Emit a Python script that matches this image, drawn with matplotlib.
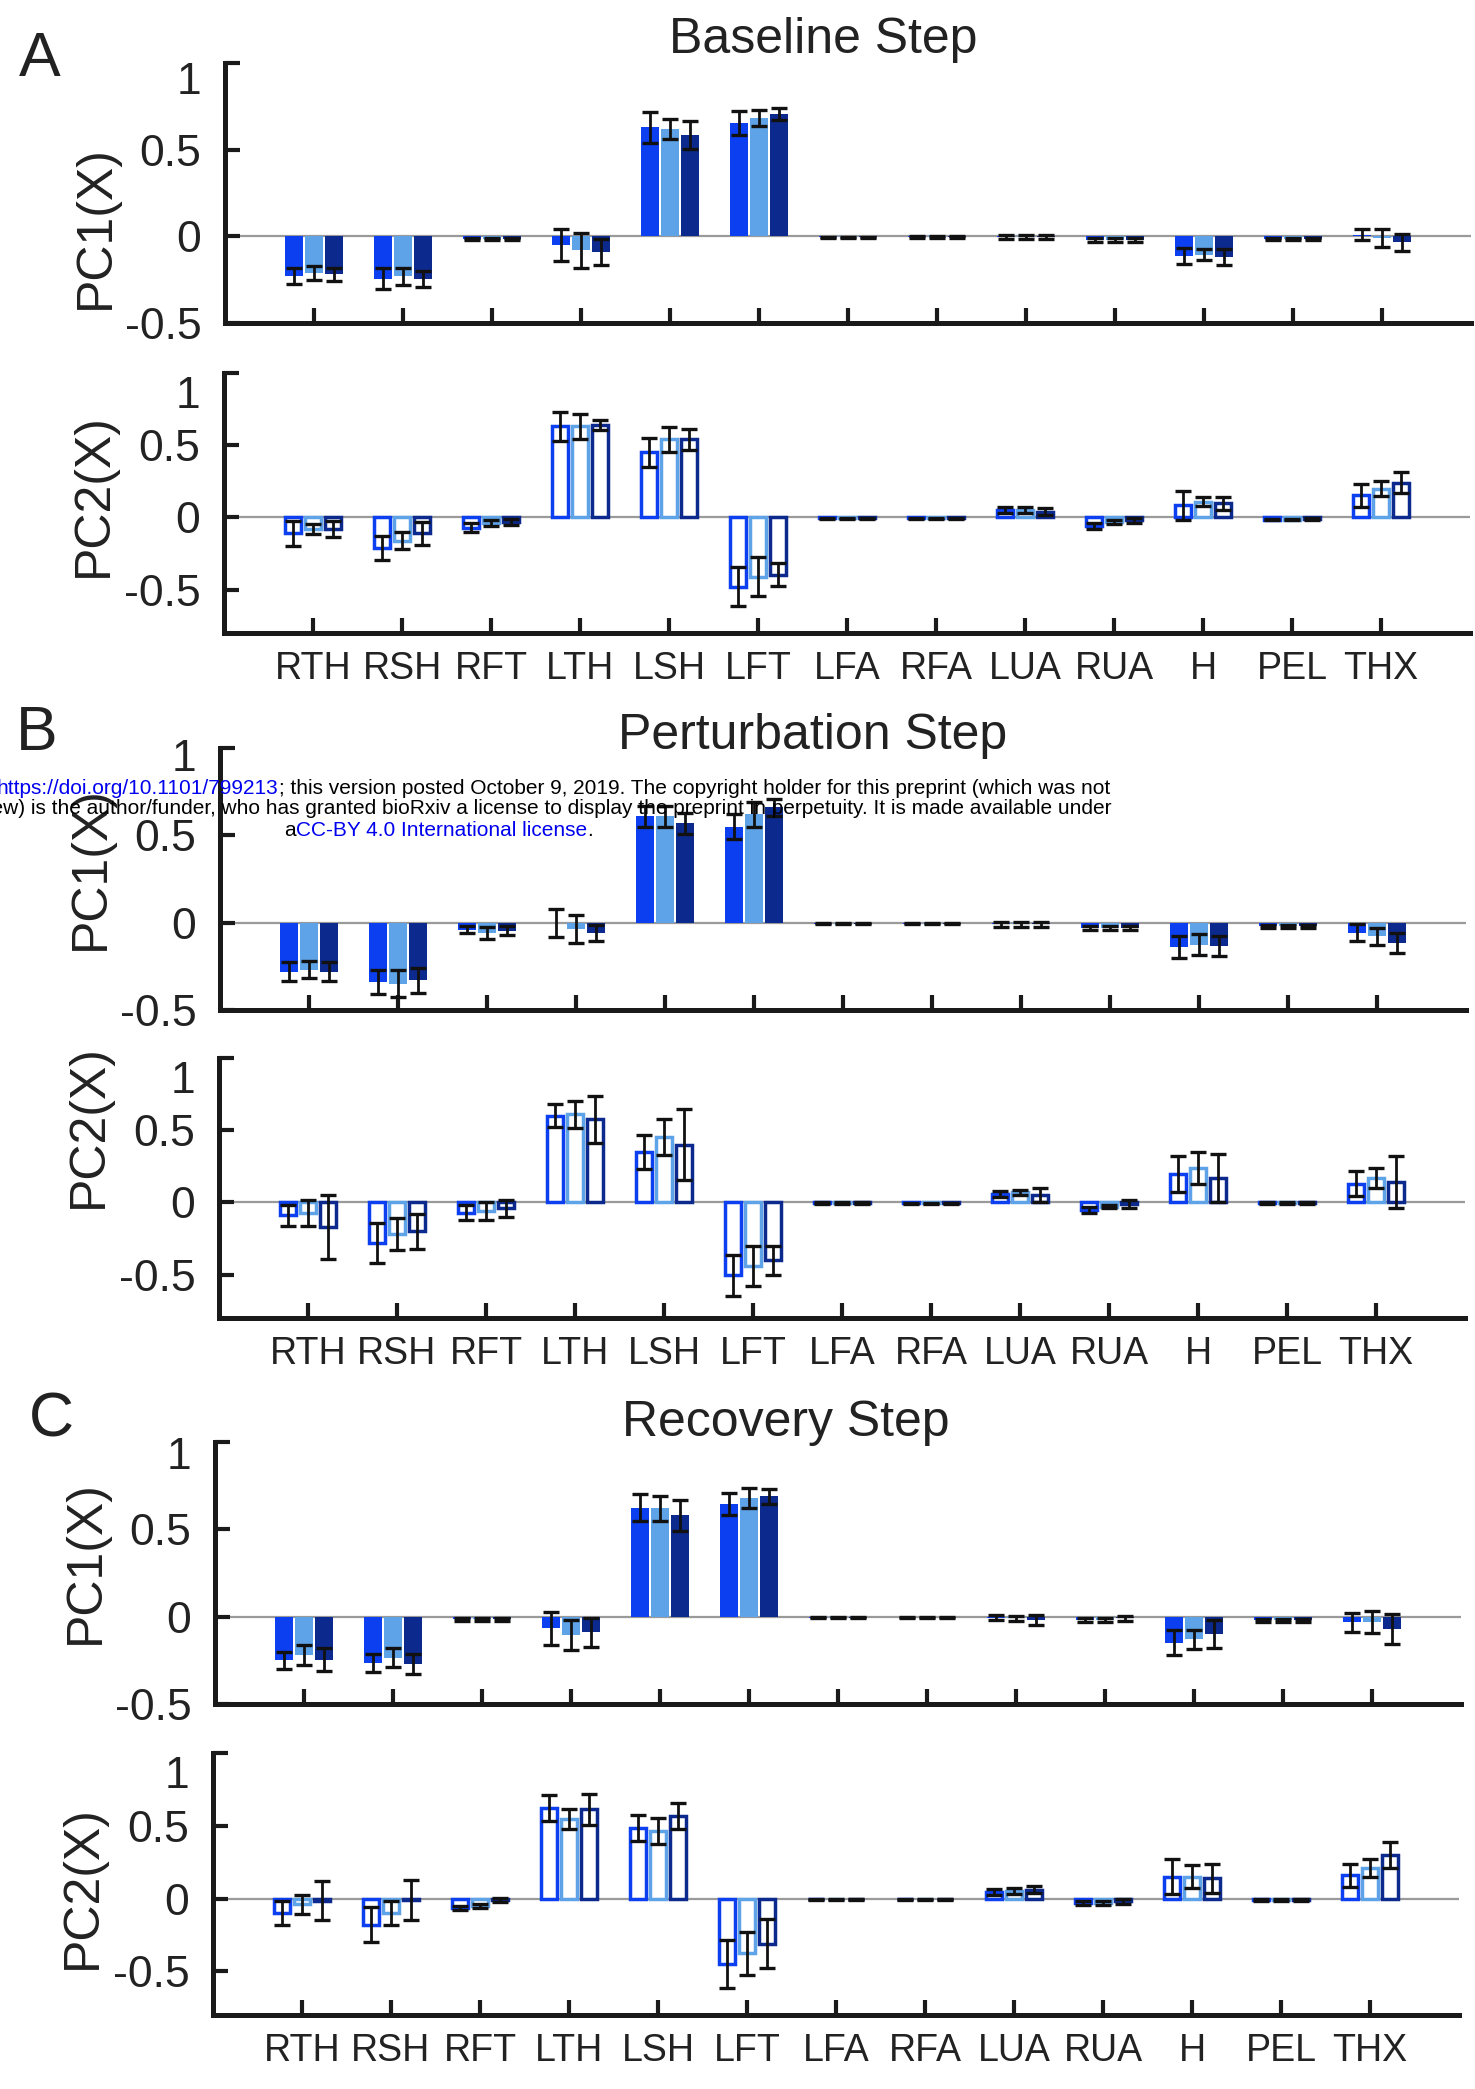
import matplotlib
matplotlib.use('Agg')
import matplotlib.pyplot as plt
import numpy as np

W, H = 1475, 2089
DPI = 100
plt.rcParams['font.family'] = ['Liberation Sans', 'DejaVu Sans']

categories = ['RTH', 'RSH', 'RFT', 'LTH', 'LSH', 'LFT', 'LFA', 'RFA', 'LUA', 'RUA', 'H', 'PEL', 'THX']
yticks = [-0.5, 0, 0.5, 1]
ytick_labels = ['-0.5', '0', '0.5', '1']

# ---------------- A: Baseline Step ----------------
A_pc1_s1 = [-0.23, -0.245, -0.015, -0.05, 0.63, 0.655, -0.005, -0.004, -0.005, -0.02, -0.115, -0.015, 0.01]
A_pc1_s2 = [-0.21, -0.23, -0.015, -0.08, 0.62, 0.685, -0.005, -0.004, -0.005, -0.02, -0.105, -0.015, -0.01]
A_pc1_s3 = [-0.22, -0.245, -0.015, -0.09, 0.585, 0.705, -0.005, -0.004, -0.005, -0.02, -0.12, -0.015, -0.035]
A_pc1_e1 = [0.045, 0.06, 0.008, 0.09, 0.09, 0.07, 0.004, 0.004, 0.012, 0.01, 0.045, 0.006, 0.03]
A_pc1_e2 = [0.04, 0.048, 0.008, 0.1, 0.058, 0.046, 0.004, 0.004, 0.012, 0.01, 0.03, 0.006, 0.05]
A_pc1_e3 = [0.035, 0.045, 0.008, 0.075, 0.08, 0.035, 0.004, 0.004, 0.012, 0.01, 0.045, 0.006, 0.05]

A_pc2_s1 = [-0.11, -0.21, -0.07, 0.63, 0.45, -0.48, -0.005, -0.005, 0.05, -0.06, 0.085, -0.015, 0.155]
A_pc2_s2 = [-0.08, -0.16, -0.04, 0.63, 0.54, -0.41, -0.005, -0.005, 0.05, -0.03, 0.11, -0.015, 0.2]
A_pc2_s3 = [-0.08, -0.11, -0.03, 0.64, 0.54, -0.395, -0.005, -0.005, 0.04, -0.02, 0.1, -0.01, 0.24]
A_pc2_e1 = [0.088, 0.085, 0.03, 0.1, 0.1, 0.136, 0.004, 0.004, 0.02, 0.02, 0.1, 0.005, 0.08]
A_pc2_e2 = [0.036, 0.057, 0.02, 0.085, 0.085, 0.136, 0.004, 0.004, 0.02, 0.015, 0.034, 0.005, 0.05]
A_pc2_e3 = [0.057, 0.08, 0.02, 0.034, 0.074, 0.083, 0.004, 0.004, 0.025, 0.015, 0.045, 0.005, 0.074]

# ---------------- B: Perturbation Step ----------------
B_pc1_s1 = [-0.28, -0.34, -0.04, 0.0, 0.61, 0.55, -0.005, -0.005, -0.01, -0.03, -0.14, -0.02, -0.058]
B_pc1_s2 = [-0.27, -0.35, -0.06, -0.036, 0.61, 0.62, -0.005, -0.005, -0.01, -0.03, -0.125, -0.02, -0.077]
B_pc1_s3 = [-0.28, -0.33, -0.045, -0.06, 0.57, 0.66, -0.005, -0.005, -0.01, -0.03, -0.135, -0.02, -0.115]
B_pc1_e1 = [0.053, 0.067, 0.02, 0.08, 0.06, 0.07, 0.004, 0.004, 0.015, 0.01, 0.063, 0.008, 0.048]
B_pc1_e2 = [0.048, 0.077, 0.034, 0.079, 0.06, 0.07, 0.004, 0.004, 0.015, 0.01, 0.058, 0.008, 0.048]
B_pc1_e3 = [0.053, 0.072, 0.024, 0.045, 0.06, 0.05, 0.004, 0.004, 0.015, 0.01, 0.058, 0.008, 0.058]

B_pc2_s1 = [-0.09, -0.28, -0.07, 0.6, 0.35, -0.505, -0.004, -0.005, 0.06, -0.05, 0.2, -0.005, 0.13]
B_pc2_s2 = [-0.07, -0.22, -0.06, 0.61, 0.455, -0.44, -0.004, -0.005, 0.07, -0.03, 0.24, -0.005, 0.17]
B_pc2_s3 = [-0.17, -0.2, -0.04, 0.575, 0.4, -0.4, -0.004, -0.005, 0.05, -0.01, 0.17, -0.005, 0.14]
B_pc2_e1 = [0.074, 0.14, 0.05, 0.08, 0.12, 0.14, 0.004, 0.004, 0.02, 0.02, 0.125, 0.005, 0.085]
B_pc2_e2 = [0.09, 0.11, 0.06, 0.093, 0.125, 0.136, 0.004, 0.004, 0.015, 0.01, 0.11, 0.005, 0.068]
B_pc2_e3 = [0.22, 0.12, 0.06, 0.165, 0.245, 0.1, 0.004, 0.004, 0.05, 0.03, 0.165, 0.005, 0.18]

# ---------------- C: Recovery Step ----------------
C_pc1_s1 = [-0.25, -0.264, -0.015, -0.067, 0.625, 0.645, -0.005, -0.003, -0.005, -0.02, -0.15, -0.02, -0.033]
C_pc1_s2 = [-0.22, -0.235, -0.015, -0.106, 0.62, 0.68, -0.005, -0.003, -0.01, -0.02, -0.13, -0.02, -0.033]
C_pc1_s3 = [-0.246, -0.27, -0.015, -0.09, 0.58, 0.69, -0.005, -0.003, -0.02, -0.01, -0.1, -0.02, -0.07]
C_pc1_e1 = [0.048, 0.053, 0.01, 0.096, 0.077, 0.063, 0.004, 0.003, 0.015, 0.01, 0.072, 0.008, 0.053]
C_pc1_e2 = [0.058, 0.053, 0.01, 0.087, 0.072, 0.055, 0.004, 0.003, 0.015, 0.01, 0.053, 0.008, 0.063]
C_pc1_e3 = [0.064, 0.058, 0.01, 0.082, 0.087, 0.043, 0.004, 0.003, 0.03, 0.012, 0.082, 0.008, 0.088]

C_pc2_s1 = [-0.1, -0.18, -0.065, 0.62, 0.485, -0.45, -0.004, -0.004, 0.045, -0.03, 0.15, -0.01, 0.16]
C_pc2_s2 = [-0.04, -0.1, -0.05, 0.545, 0.466, -0.375, -0.004, -0.004, 0.05, -0.03, 0.15, -0.01, 0.21]
C_pc2_s3 = [-0.014, -0.01, -0.01, 0.612, 0.565, -0.31, -0.004, -0.004, 0.06, -0.02, 0.14, -0.01, 0.3]
C_pc2_e1 = [0.085, 0.12, 0.015, 0.09, 0.09, 0.165, 0.004, 0.004, 0.02, 0.015, 0.12, 0.005, 0.08]
C_pc2_e2 = [0.063, 0.08, 0.015, 0.068, 0.09, 0.148, 0.004, 0.004, 0.02, 0.015, 0.08, 0.005, 0.06]
C_pc2_e3 = [0.133, 0.136, 0.015, 0.108, 0.09, 0.17, 0.004, 0.004, 0.025, 0.015, 0.1, 0.005, 0.09]

colors = ['#0b3ff0', '#5ea2e8', '#0c2a8e']
TXT = '#222222'
AXC = '#1a1a1a'

fig = plt.figure(figsize=(W / DPI, H / DPI), dpi=DPI)
fig.patch.set_facecolor('white')

AX_W = 1246
YPAD = 17


def add_ax(left, top, bottom):
    return fig.add_axes([left / W, 1 - bottom / H, AX_W / W, (bottom - top) / H])


def draw(ax, means, errs, filled, ylim, ylabel, lab_xy, show_xlabels, top_drop):
    x = np.arange(1, len(categories) + 1)
    offs = [-0.225, 0.0, 0.225]
    ax.axhline(0, color='#9a9a9a', lw=1.6, zorder=1)
    for k in range(3):
        if filled:
            ax.bar(x + offs[k], means[k], width=0.2, color=colors[k], lw=0, zorder=2)
        else:
            ax.bar(x + offs[k], means[k], width=0.175, facecolor='white',
                   edgecolor=colors[k], lw=2.5, zorder=2)
        ax.errorbar(x + offs[k], means[k], yerr=errs[k], fmt='none', ecolor='#111111',
                    elinewidth=2.0, capsize=5.5, capthick=2.4, zorder=3)
    ax.set_xlim(0, 14)
    ax.set_ylim(*ylim)
    ax.set_yticks(yticks)
    # the top label ("1") sits a little below its tick in the reference; drawn separately
    ax.set_yticklabels(ytick_labels[:-1] + [''])
    ax.annotate(ytick_labels[-1], xy=(0, yticks[-1]), xycoords=('axes fraction', 'data'),
                xytext=(-YPAD, -top_drop), textcoords='offset points', ha='right', va='center',
                fontsize=32, color=TXT, annotation_clip=False)
    ax.set_xticks(x)
    ax.set_xticklabels(categories if show_xlabels else [''] * len(categories))
    for s in ['top', 'right']:
        ax.spines[s].set_visible(False)
    for s in ['left', 'bottom']:
        ax.spines[s].set_linewidth(3.6)
        ax.spines[s].set_color(AXC)
    ax.tick_params(direction='in', length=11, width=3, color=AXC, labelcolor=TXT)
    ax.tick_params(axis='x', labelsize=27, pad=13)
    ax.tick_params(axis='y', labelsize=32, pad=YPAD)
    ax.set_ylabel(ylabel, fontsize=36, color=TXT)
    ax.yaxis.set_label_coords(*lab_xy)
    ax.set_facecolor('none')


panels = [
    # means, errs, filled, ylim, ylabel, (left, top, bottom), label coords, show xlabels, "1" drop
    ([A_pc1_s1, A_pc1_s2, A_pc1_s3], [A_pc1_e1, A_pc1_e2, A_pc1_e3], True, (-0.5, 1), 'PC1(X)',
     (225, 63, 323), (-0.085, 0.37), False, 14),
    ([A_pc2_s1, A_pc2_s2, A_pc2_s3], [A_pc2_e1, A_pc2_e2, A_pc2_e3], False, (-0.8, 1), 'PC2(X)',
     (224, 373, 633), (-0.086, 0.53), True, 17),
    ([B_pc1_s1, B_pc1_s2, B_pc1_s3], [B_pc1_e1, B_pc1_e2, B_pc1_e3], True, (-0.5, 1), 'PC1(X)',
     (220, 748, 1010), (-0.085, 0.54), False, 8),
    ([B_pc2_s1, B_pc2_s2, B_pc2_s3], [B_pc2_e1, B_pc2_e2, B_pc2_e3], False, (-0.8, 1), 'PC2(X)',
     (219, 1058, 1318), (-0.086, 0.74), True, 17),
    ([C_pc1_s1, C_pc1_s2, C_pc1_s3], [C_pc1_e1, C_pc1_e2, C_pc1_e3], True, (-0.5, 1), 'PC1(X)',
     (215, 1442, 1704), (-0.085, 0.54), False, 11),
    ([C_pc2_s1, C_pc2_s2, C_pc2_s3], [C_pc2_e1, C_pc2_e2, C_pc2_e3], False, (-0.8, 1), 'PC2(X)',
     (213, 1753, 2015), (-0.086, 0.49), True, 17),
]

for means, errs, filled, ylim, ylabel, rect, labxy, showx, drop in panels:
    ax = add_ax(*rect)
    draw(ax, means, errs, filled, ylim, ylabel, labxy, showx, drop)


def ftext(xp, yp, s, **kw):
    return fig.text(xp / W, 1 - yp / H, s, **kw)


# Panel letters and titles
ftext(40, 60, 'A', fontsize=45, ha='center', va='center', color=TXT)
ftext(823, 40, 'Baseline Step', fontsize=36, ha='center', va='center', color=TXT)
ftext(37, 733, 'B', fontsize=45, ha='center', va='center', color=TXT)
ftext(813, 736, 'Perturbation Step', fontsize=36, ha='center', va='center', color=TXT)
ftext(51, 1420, 'C', fontsize=45, ha='center', va='center', color=TXT)
ftext(786, 1423, 'Recovery Step', fontsize=36, ha='center', va='center', color=TXT)

# bioRxiv header overlay
renderer = fig.canvas.get_renderer()
WM_FS = 15.0
BLUE = '#0000ee'


def pieces_right(x_right, yp, pieces):
    x = x_right
    for txt, col in reversed(pieces):
        t = ftext(x, yp, txt, fontsize=WM_FS, ha='right', va='center', color=col)
        x -= t.get_window_extent(renderer).width


def pieces_left(x_left, yp, pieces):
    x = x_left
    for txt, col in pieces:
        t = ftext(x, yp, txt, fontsize=WM_FS, ha='left', va='center', color=col)
        x += t.get_window_extent(renderer).width


pieces_right(1110, 789, [('bioRxiv preprint doi: ', 'black'),
                         ('https://doi.org/10.1101/799213', BLUE),
                         ('; this version posted October 9, 2019. The copyright holder for this preprint (which was not', 'black')])
pieces_right(1112, 809, [('certified by peer review) is the author/funder, who has granted bioRxiv a license to display the preprint in perpetuity. It is made available under', 'black')])
pieces_left(284, 830, [('a', 'black'), ('CC-BY 4.0 International license', BLUE), ('.', 'black')])

fig.savefig('out.png', dpi=DPI, facecolor='white')
